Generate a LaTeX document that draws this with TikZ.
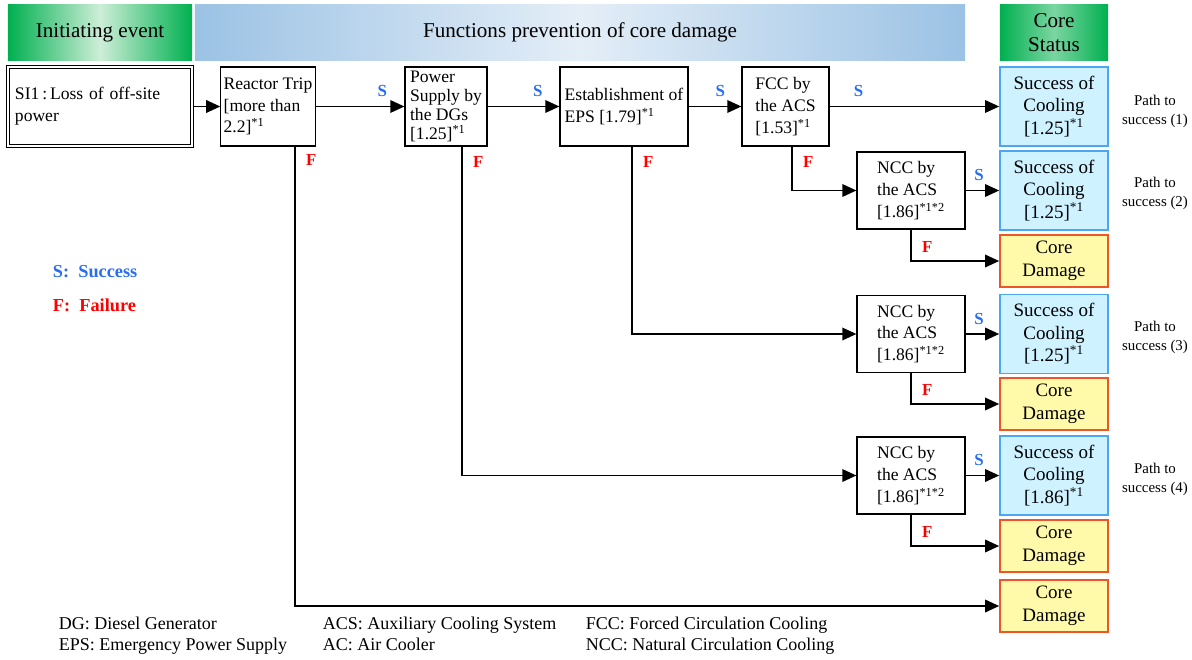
\documentclass[tikz,border=0pt]{standalone}
\usepackage{fontspec}
\setmainfont{Liberation Serif}
\usetikzlibrary{arrows.meta,calc}
\definecolor{headgreen}{RGB}{0,176,80}
\definecolor{headgreenlight}{RGB}{205,238,215}
\definecolor{headblue}{RGB}{155,194,228}
\definecolor{headbluelight}{RGB}{228,238,247}
\definecolor{succblue}{RGB}{40,110,240}
\definecolor{failred}{RGB}{255,0,0}
\definecolor{coolfill}{RGB}{206,242,255}
\definecolor{cooldraw}{RGB}{77,166,245}
\definecolor{damfill}{RGB}{255,249,170}
\definecolor{damdraw}{RGB}{240,85,40}
\tikzset{branch/.style={-{Triangle[length=10pt,width=9pt]},line width=1pt},
 every node/.style={font=\fontsize{12.5}{15.5}\selectfont}}

\begin{document}
\begin{tikzpicture}[x=0.025cm,y=-0.025cm,
 box/.style={draw,line width=0.9pt,align=left,minimum height=1.975cm,inner sep=2pt},
 status/.style={draw,line width=1.2pt,align=center,minimum width=2.7cm,inner sep=2pt,font=\fontsize{13.5}{16}\selectfont},
 cool/.style={status,fill=coolfill,draw=cooldraw,minimum height=1.975cm},
 damage/.style={status,fill=damfill,draw=damdraw,minimum height=1.3cm},
 header/.style={minimum height=1.375cm,align=center,font=\fontsize{15}{17}\selectfont},
 slabel/.style={succblue,yshift=3pt,font=\bfseries\fontsize{12}{14}\selectfont},
 flabel/.style={failred,xshift=4pt,font=\bfseries\fontsize{12}{14}\selectfont},
 pathnote/.style={align=center,font=\fontsize{10.6}{13.5}\selectfont},
 legend/.style={anchor=north west,align=left,font=\fontsize{12.8}{15}\selectfont}]
\useasboundingbox (0,0) rectangle (1192,659);
% headers
\node[header,left color=headgreen,right color=headgreen,middle color=headgreenlight,minimum width=4.6cm] (hinit) at (100,32.5) {Initiating event};
\node[header,left color=headblue,right color=headblue,middle color=headbluelight,minimum width=19.25cm] (hfunc) at (580,32.5) {Functions prevention of core damage};
\node[header,left color=headgreen,right color=headgreen,middle color=headgreenlight!60!headgreen,minimum width=2.7cm] (hcore) at (1054,32.5) {Core\\Status};
% event and functions
\node[box,double,double distance=1.5pt,minimum width=4.6cm,text width=4.25cm] (si) at (100,106.5) {SI1\,:\,Loss of off-site\\power};
\node[box,minimum width=2.35cm] (trip) at (268,106.5) {Reactor Trip\\{[more than}\\2.2]\textsuperscript{*1}};
\node[box,minimum width=2.05cm,inner sep=1pt,font=\fontsize{12.5}{13.4}\selectfont] (power) at (446,106.5) {Power\\Supply by\\the DGs\\{[1.25]}\textsuperscript{*1}};
\node[box,minimum width=3.2cm] (eps) at (624,106.5) {Establishment of\\EPS [1.79]\textsuperscript{*1}};
\node[box,minimum width=2.175cm] (fcc) at (785.5,106.5) {FCC by\\the ACS\\{[1.53]}\textsuperscript{*1}};
\node[box,minimum width=2.7cm,minimum height=1.925cm] (ncca) at (911,190.5) {NCC by\\the ACS\\{[1.86]}\textsuperscript{*1*2}};
\node[box,minimum width=2.7cm,minimum height=1.925cm] (nccb) at (911,334) {NCC by\\the ACS\\{[1.86]}\textsuperscript{*1*2}};
\node[box,minimum width=2.7cm,minimum height=1.925cm] (nccc) at (911,475.5) {NCC by\\the ACS\\{[1.86]}\textsuperscript{*1*2}};
% core status
\node[cool] (oka) at (1054,106.5) {Success of\\Cooling\\{[1.25]}\textsuperscript{*1}};
\node[cool] (okb) at (1054,190.5) {Success of\\Cooling\\{[1.25]}\textsuperscript{*1}};
\node[damage] (cdb) at (1054,261) {Core\\Damage};
\node[cool] (okc) at (1054,334) {Success of\\Cooling\\{[1.25]}\textsuperscript{*1}};
\node[damage] (cdc) at (1054,404) {Core\\Damage};
\node[cool] (okd) at (1054,475.5) {Success of\\Cooling\\{[1.86]}\textsuperscript{*1}};
\node[damage] (cdd) at (1054,546) {Core\\Damage};
\node[damage] (cde) at (1054,606) {Core\\Damage};
\node[pathnote] (pa) at (1155,111) {Path to\\success (1)};
\node[pathnote] (pb) at (1155,193) {Path to\\success (2)};
\node[pathnote] (pc) at (1155,337) {Path to\\success (3)};
\node[pathnote] (pd) at (1155,479) {Path to\\success (4)};
% branches
\draw[branch] (si) -- (trip);
\draw[branch] (trip) -- (power) node[slabel,pos=.75,above] {S};
\draw[branch] (power) -- (eps) node[slabel,pos=.7,above] {S};
\draw[branch] (eps) -- (fcc) node[slabel,pos=.6,above] {S};
\draw[branch] (fcc) -- (oka) node[slabel,pos=.17,above] {S};
\draw[branch] ($(trip.south)+(27,0)$) |- (cde) node[flabel,pos=.015,right] {F};
\draw[branch] ($(power.south)+(16,0)$) |- (nccc) node[flabel,pos=.024,right] {F};
\draw[branch] ($(eps.south)+(8,0)$) |- (nccb) node[flabel,pos=.042,right] {F};
\draw[branch] ($(fcc.south)+(6.5,0)$) |- (ncca) node[flabel,pos=.18,right] {F};
\draw[branch] (ncca) -- (okb) node[slabel,pos=.4,above] {S};
\draw[branch] (ncca.south) |- (cdb) node[flabel,pos=.27,right] {F};
\draw[branch] (nccb) -- (okc) node[slabel,pos=.4,above] {S};
\draw[branch] (nccb.south) |- (cdc) node[flabel,pos=.27,right] {F};
\draw[branch] (nccc) -- (okd) node[slabel,pos=.4,above] {S};
\draw[branch] (nccc.south) |- (cdd) node[flabel,pos=.27,right] {F};
% legends
\node[anchor=west,succblue,font=\bfseries\fontsize{13}{15}\selectfont] (keys) at (48,272) {S:\ \ Success};
\node[anchor=west,failred,font=\bfseries\fontsize{13}{15}\selectfont] (keyf) at (48,305) {F:\ \ Failure};
\node[legend] (lega) at (54,612) {DG: Diesel Generator\\EPS: Emergency Power Supply};
\node[legend] (legb) at (318,612) {ACS: Auxiliary Cooling System\\AC: Air Cooler};
\node[legend] (legc) at (581,612) {FCC: Forced Circulation Cooling\\NCC: Natural Circulation Cooling};
\end{tikzpicture}
\end{document}
